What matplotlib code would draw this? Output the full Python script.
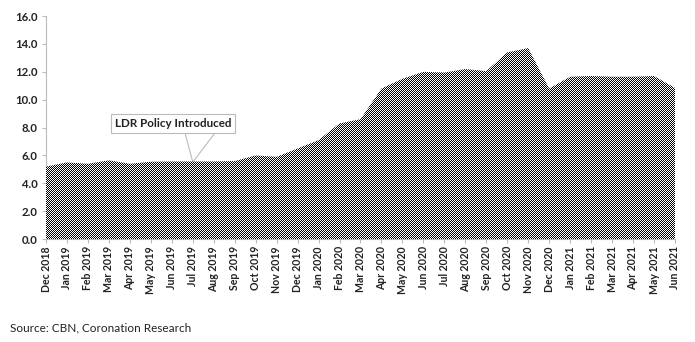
import numpy as np
import matplotlib.pyplot as plt
from matplotlib.ticker import FormatStrFormatter

# ================================
# DATA
# ================================

months = ["Dec 2018", "Jan 2019", "Feb 2019", "Mar 2019", "Apr 2019", "May 2019",
          "Jun 2019", "Jul 2019", "Aug 2019", "Sep 2019", "Oct 2019", "Nov 2019",
          "Dec 2019", "Jan 2020", "Feb 2020", "Mar 2020", "Apr 2020", "May 2020",
          "Jun 2020", "Jul 2020", "Aug 2020", "Sep 2020", "Oct 2020", "Nov 2020",
          "Dec 2020", "Jan 2021", "Feb 2021", "Mar 2021", "Apr 2021", "May 2021",
          "Jun 2021"]
values = [5.2, 5.5, 5.4, 5.65, 5.4, 5.55,
          5.57, 5.57, 5.57, 5.6, 6.0, 5.9,
          6.5, 7.1, 8.3, 8.6, 10.8, 11.5,
          12.0, 11.95, 12.2, 12.05, 13.4, 13.7,
          10.8, 11.65, 11.7, 11.65, 11.65, 11.7,
          10.85]
yticks = np.arange(0, 16.1, 2)

annot_text = "LDR Policy Introduced"
annot_month = "Jul 2019"
source_text = "Source: CBN, Coronation Research"

# ================================
# PLOT
# ================================

plt.rcParams["font.family"] = ["Lato", "DejaVu Sans"]

fig = plt.figure(figsize=(6.95, 3.42), dpi=100)
ax = fig.add_axes([0.0662, 0.301, 0.905, 0.652])

x = np.arange(len(months))
area = ax.fill_between(x, values, 0, facecolor="none", edgecolor="none")

# fine checkerboard texture clipped to the area
h, w = 342, 695
checker = (np.indices((h, w)).sum(axis=0) % 2).astype(float)
img = fig.figimage(checker, xo=0, yo=0, cmap="gray", vmin=0, vmax=1, origin="lower")
img.set_clip_path(area.get_paths()[0], transform=ax.transData)

ax.set_xlim(0, len(months) - 1)
ax.set_ylim(0, 16)
ax.set_xticks(x)
ax.set_xticklabels(months, rotation=90, fontsize=7.6, fontweight="bold", color="#222222")
ax.set_yticks(yticks)
ax.yaxis.set_major_formatter(FormatStrFormatter("%.1f"))
for lbl in ax.get_yticklabels():
    lbl.set_fontsize(8.2)
    lbl.set_fontweight("bold")
    lbl.set_color("#222222")

for s in ["top", "right"]:
    ax.spines[s].set_visible(False)
for s in ["left", "bottom"]:
    ax.spines[s].set_color("#bbbbbb")
    ax.spines[s].set_linewidth(0.8)
ax.tick_params(axis="both", colors="#bbbbbb", length=3, width=0.8)
ax.tick_params(axis="x", pad=2, labelcolor="#222222")
ax.tick_params(axis="y", pad=3, labelcolor="#222222")

# callout
xi = months.index(annot_month)
yi = values[xi]
ax.text(6.05, 8.29, annot_text, ha="center", va="center", fontsize=8.4,
        fontweight="bold", color="#222222", zorder=5,
        bbox=dict(boxstyle="square,pad=0.35", facecolor="white",
                  edgecolor="#bbbbbb", linewidth=0.8))
for bx in [6.63, 8.06]:
    ax.annotate("", xy=(xi, yi - 0.05), xytext=(bx, 7.62),
                arrowprops=dict(arrowstyle="-", color="#bbbbbb", lw=0.8,
                                shrinkA=0, shrinkB=0))

fig.text(10 / 695, 1 - 328 / 342, source_text, fontsize=8.5, color="#222222",
         va="center", ha="left")

plt.savefig("out.png", dpi=100)
plt.close()
